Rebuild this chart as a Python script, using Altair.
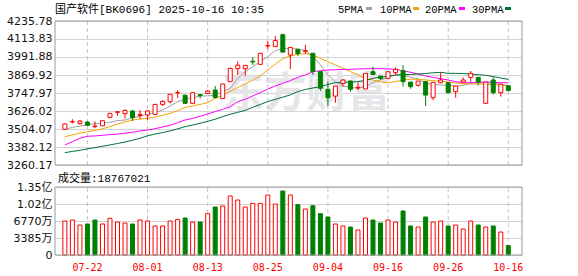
import altair as alt
import pandas as pd

# ---------------- data ----------------
dates = ["07-17", "07-18", "07-21", "07-22", "07-23", "07-24", "07-25", "07-28", "07-29", "07-30",
         "07-31", "08-01", "08-04", "08-05", "08-06", "08-07", "08-08", "08-11", "08-12", "08-13",
         "08-14", "08-15", "08-18", "08-19", "08-20", "08-21", "08-22", "08-25", "08-26", "08-27",
         "08-28", "08-29", "09-01", "09-02", "09-03", "09-04", "09-05", "09-08", "09-09", "09-10",
         "09-11", "09-12", "09-15", "09-16", "09-17", "09-18", "09-19", "09-22", "09-23", "09-24",
         "09-25", "09-26", "09-29", "09-30", "10-09", "10-10", "10-13", "10-14", "10-15", "10-16"]

opens = [3502, 3551, 3542, 3551, 3520, 3526, 3583, 3617, 3608, 3626,
         3596, 3599, 3603, 3671, 3689, 3749, 3732, 3678, 3737, 3745,
         3768, 3710, 3825, 3913, 3913, 3963, 3942, 4066, 4062, 4143,
         4005, 4044, 4030, 4017, 3893, 3773, 3727, 3813, 3829, 3782,
         3775, 3892, 3863, 3847, 3886, 3899, 3822, 3800, 3825, 3716,
         3818, 3818, 3757, 3822, 3854, 3854, 3678, 3836, 3750, 3797]
highs = [3542, 3570, 3565, 3556, 3556, 3562, 3610, 3622, 3637, 3633,
         3633, 3633, 3671, 3700, 3739, 3768, 3739, 3755, 3737, 3768,
         3795, 3809, 3920, 3962, 3935, 3992, 4017, 4100, 4134, 4150,
         4057, 4044, 4073, 4017, 3893, 3825, 3795, 3840, 3834, 3818,
         3881, 3926, 3863, 3895, 3922, 3937, 3822, 3829, 3829, 3820,
         3888, 3818, 3795, 3854, 3897, 3854, 3822, 3854, 3807, 3797]
lows = [3497, 3542, 3533, 3524, 3509, 3524, 3577, 3594, 3576, 3558,
        3572, 3565, 3599, 3660, 3678, 3716, 3678, 3678, 3710, 3745,
        3710, 3710, 3825, 3870, 3863, 3937, 3942, 4045, 4062, 4025,
        3910, 3999, 4012, 3870, 3762, 3660, 3682, 3791, 3757, 3768,
        3775, 3874, 3836, 3847, 3870, 3791, 3777, 3791, 3660, 3700,
        3813, 3750, 3716, 3822, 3822, 3800, 3678, 3737, 3723, 3764]
closes = [3538, 3554, 3558, 3529, 3524, 3560, 3610, 3621, 3630, 3581,
          3603, 3626, 3671, 3691, 3739, 3751, 3678, 3750, 3730, 3761,
          3718, 3809, 3915, 3937, 3935, 3958, 4017, 4069, 4103, 4025,
          4057, 4015, 4035, 3893, 3780, 3716, 3795, 3836, 3773, 3786,
          3881, 3874, 3847, 3892, 3908, 3825, 3791, 3829, 3734, 3820,
          3836, 3750, 3795, 3836, 3881, 3822, 3822, 3750, 3807, 3764]

# volume in 万 (10k shares)
volumes = [6770, 6968, 5973, 6172, 6968, 6172, 7300, 6570, 6371, 6172,
           6968, 6770, 5774, 5774, 6770, 7100, 7367, 6570, 6570, 8230,
           9557, 9756, 11747, 10950, 9557, 10286, 10286, 11946, 10154, 12742,
           11946, 10020, 9159, 9822, 8230, 7566, 6172, 5774, 5575, 4977,
           7367, 6968, 6371, 6968, 6570, 8762, 5774, 5575, 7566, 6570,
           6770, 5774, 5973, 5177, 6770, 5973, 5575, 5774, 4579, 1877]
vol_up = [1, 1, 1, 0, 0, 1, 1, 1, 1, 0,
          1, 1, 1, 1, 1, 1, 0, 1, 0, 1,
          0, 1, 1, 1, 1, 1, 1, 1, 1, 0,
          1, 0, 1, 0, 0, 0, 1, 1, 0, 1,
          1, 0, 0, 1, 1, 0, 0, 1, 0, 1,
          1, 0, 1, 1, 1, 0, 1, 0, 1, 0]

ma5 = [3502, 3515, 3524, 3533, 3540, 3543, 3549, 3561, 3565, 3579,
       3590, 3606, 3615, 3633, 3660, 3689, 3705, 3716, 3728, 3728,
       3735, 3757, 3780, 3847, 3893, 3926, 3960, 3994, 4035, 4050,
       4050, 4046, 4035, 3999, 3938, 3870, 3825, 3795, 3786, 3780,
       3791, 3818, 3836, 3854, 3870, 3870, 3854, 3845, 3814, 3807,
       3802, 3800, 3795, 3800, 3814, 3818, 3818, 3814, 3809, 3795]
ma10 = [3452, 3464, 3475, 3486, 3495, 3506, 3520, 3538, 3552, 3565,
        3572, 3576, 3585, 3597, 3610, 3628, 3651, 3660, 3671, 3683,
        3710, 3735, 3760, 3785, 3810, 3835, 3865, 3905, 3945, 3980,
        3999, 4010, 4015, 4005, 3983, 3960, 3938, 3915, 3893, 3870,
        3847, 3836, 3825, 3818, 3825, 3836, 3841, 3841, 3836, 3832,
        3827, 3823, 3816, 3811, 3809, 3809, 3807, 3804, 3802, 3800]
ma20 = [3396, 3418, 3441, 3455, 3457, 3461, 3466, 3470, 3475, 3482,
        3491, 3497, 3506, 3518, 3529, 3547, 3565, 3576, 3590, 3606,
        3622, 3637, 3655, 3689, 3705, 3728, 3750, 3775, 3795, 3814,
        3832, 3854, 3870, 3893, 3899, 3904, 3906, 3908, 3908, 3911,
        3913, 3913, 3913, 3911, 3908, 3899, 3888, 3877, 3863, 3854,
        3845, 3836, 3825, 3818, 3818, 3820, 3823, 3820, 3818, 3818]
ma30 = [3344, 3352, 3360, 3369, 3378, 3387, 3396, 3406, 3416, 3428,
        3441, 3458, 3470, 3480, 3491, 3505, 3520, 3531, 3543, 3556,
        3570, 3588, 3604, 3617, 3630, 3651, 3670, 3690, 3705, 3720,
        3735, 3757, 3772, 3782, 3791, 3805, 3818, 3820, 3822, 3825,
        3833, 3847, 3855, 3862, 3870, 3872, 3874, 3877, 3880, 3885,
        3888, 3881, 3881, 3880, 3875, 3872, 3868, 3859, 3850, 3840]

x_tick_labels = ["07-22", "08-01", "08-13", "08-25", "09-04", "09-16", "09-26", "10-16"]
price_ticks = [3260.17, 3382.12, 3504.07, 3626.02, 3747.97, 3869.92, 3991.88, 4113.83, 4235.78]
vol_ticks = [0, 3385, 6770, 10155, 13540]
vol_tick_labels = ["0", "3385万", "6770万", "1.02亿", "1.35亿"]
ma_names = ["5PMA", "10PMA", "20PMA", "30PMA"]
ma_colors = ["#a0a0a0", "#f5a300", "#ff00ff", "#00703c"]
title_text = "国产软件[BK0696] 2025-10-16 10:35"
vol_title = "成交量:18767021"
watermark = "东方财富"

# ---------------- styles ----------------
RED = "#ff0000"
GREEN = "#008000"
GRID = "#d3d3d3"
FRAME = "#9a9a9a"
MONO = "Liberation Mono, Noto Sans CJK SC"

idx = list(range(len(dates)))
df = pd.DataFrame({"i": idx, "date": dates, "open": opens, "high": highs,
                   "low": lows, "close": closes, "vol": volumes})
df["col"] = [RED if c >= o else GREEN for o, c in zip(opens, closes)]
df["fill"] = ["#ffffff" if c >= o else GREEN for o, c in zip(opens, closes)]
df["vcol"] = [RED if u else GREEN for u in vol_up]
df["vfill"] = ["#ffffff" if u else GREEN for u in vol_up]

ma_rows = []
for name, series in zip(ma_names, [ma5, ma10, ma20, ma30]):
    for i, v in zip(idx, series):
        ma_rows.append({"i": i, "ma": name, "v": v})
ma_df = pd.DataFrame(ma_rows)

tick_idx = [dates.index(d) for d in x_tick_labels]
vrules = pd.DataFrame({"i": tick_idx, "lab": x_tick_labels,
                       "plo": [price_ticks[0]] * len(tick_idx), "phi": [price_ticks[-1]] * len(tick_idx),
                       "vlo": [vol_ticks[0]] * len(tick_idx), "vhi": [vol_ticks[-1]] * len(tick_idx)})
frame_df = pd.DataFrame({"plo": [price_ticks[0]], "phi": [price_ticks[-1]],
                         "vlo": [vol_ticks[0]], "vhi": [vol_ticks[-1]]})

x_scale = alt.Scale(domain=[-0.65, 60.16], nice=False, zero=False)


def X(field="i"):
    return alt.X(f"{field}:Q", scale=x_scale, axis=None)


price_scale = alt.Scale(domain=[price_ticks[0], price_ticks[-1]], range=[144, 0], nice=False, zero=False)
price_axis = alt.Axis(values=price_ticks, format=".2f", grid=True, gridColor=GRID, domain=False,
                      ticks=False, labelPadding=3, labelFont="DejaVu Sans", labelFontSize=11,
                      labelColor="#111111", title=None, orient="left", labelOverlap=False)
vol_scale = alt.Scale(domain=[vol_ticks[0], vol_ticks[-1]], range=[234, 166], nice=False, zero=False)
vol_label_expr = ("[" + ",".join(f"'{t}'" for t in vol_tick_labels) + "][indexof(["
                  + ",".join(str(v) for v in vol_ticks) + "], datum.value)]")
vol_axis = alt.Axis(values=vol_ticks, labelExpr=vol_label_expr, grid=True, gridColor=GRID, domain=False,
                    ticks=False, labelPadding=3, labelFont="DejaVu Sans, Noto Sans CJK SC", labelFontSize=11,
                    labelColor="#111111", title=None, orient="left", labelOverlap=False)


def PY(field):
    return alt.Y(f"{field}:Q", scale=price_scale, axis=price_axis)


def VY(field):
    return alt.Y(f"{field}:Q", scale=vol_scale, axis=vol_axis)


# ---------------- price panel ----------------
p_vr = alt.Chart(vrules).mark_rule(color="#c4c4c4", strokeDash=[4, 3], strokeWidth=1).encode(
    x=X(), y=PY("plo"), y2="phi:Q")
p_ma = alt.Chart(ma_df).mark_line(strokeWidth=1).encode(
    x=X(), y=PY("v"),
    color=alt.Color("ma:N", scale=alt.Scale(domain=ma_names, range=ma_colors), legend=None),
    detail="ma:N")
p_wick = alt.Chart(df).mark_rule(strokeWidth=1).encode(
    x=X(), y=PY("low"), y2="high:Q", color=alt.Color("col:N", scale=None))
p_body = alt.Chart(df).mark_bar(size=4, strokeWidth=1).encode(
    x=X(), y=PY("open"), y2="close:Q",
    fill=alt.Fill("fill:N", scale=None), stroke=alt.Stroke("col:N", scale=None))
p_frame = alt.Chart(frame_df).mark_rect(filled=False, stroke=FRAME, strokeWidth=1).encode(
    x=alt.value(0), x2=alt.value("width"), y=PY("phi"), y2="plo:Q")
price = alt.layer(p_vr, p_ma, p_wick, p_body, p_frame)

# ---------------- volume panel ----------------
v_vr = alt.Chart(vrules).mark_rule(color="#c4c4c4", strokeDash=[4, 3], strokeWidth=1).encode(
    x=X(), y=VY("vlo"), y2="vhi:Q")
v_bar = alt.Chart(df).mark_bar(size=4, strokeWidth=1, orient="vertical").encode(
    x=X(), y=VY("vol"),
    fill=alt.Fill("vfill:N", scale=None), stroke=alt.Stroke("vcol:N", scale=None))
v_frame = alt.Chart(frame_df).mark_rect(filled=False, stroke=FRAME, strokeWidth=1).encode(
    x=alt.value(0), x2=alt.value("width"), y=VY("vhi"), y2="vlo:Q")
volume = alt.layer(v_vr, v_bar, v_frame)

# x tick labels (red) drawn as text on the shared x scale
x_labels = alt.Chart(vrules).mark_text(
    font="DejaVu Sans Mono", fontSize=10, color=RED, fill=RED, align="center", baseline="top").encode(
    x=X(), y=alt.value(242), text="lab:N")

# ---------------- texts ----------------
wm = alt.Chart(pd.DataFrame({"t": [watermark]})).mark_text(
    font="Noto Sans CJK SC", fontSize=42, fontWeight="bold", color="#e6e6ea", align="center",
    baseline="middle").encode(text="t:N", x=alt.value(251), y=alt.value(73))
title = alt.Chart(pd.DataFrame({"t": [title_text]})).mark_text(
    font=MONO, fontSize=11, color="#000000", align="left", baseline="alphabetic").encode(
    text="t:N", x=alt.value(0), y=alt.value(-8.5))
vtitle = alt.Chart(pd.DataFrame({"t": [vol_title]})).mark_text(
    font=MONO, fontSize=11, color="#000000", align="left", baseline="alphabetic").encode(
    text="t:N", x=alt.value(3), y=alt.value(160.5))

legend_layers = []
legend_text_x = [283, 325, 370, 417]
legend_sw_x = [311, 358, 404, 450]
for name, colr, tx, sx in zip(ma_names, ma_colors, legend_text_x, legend_sw_x):
    legend_layers.append(alt.Chart(pd.DataFrame({"t": [name]})).mark_text(
        font="Liberation Mono", fontSize=10.5, color="#000000", align="left", baseline="alphabetic").encode(
        text="t:N", x=alt.value(tx), y=alt.value(-8.5)))
    legend_layers.append(alt.Chart(pd.DataFrame({"t": [name]})).mark_rect(color=colr).encode(
        x=alt.value(sx), x2=alt.value(sx + 6), y=alt.value(-14), y2=alt.value(-11)))

chart = alt.layer(wm, price, volume, x_labels, title, vtitle, *legend_layers).resolve_scale(
    y="independent"
).properties(
    width=467, height=234,
    padding={"left": 55, "top": 21, "right": 56, "bottom": 21},
    autosize=alt.AutoSizeParams(type="none"),
    background="#ffffff",
).configure_view(stroke=None)

chart.save("out.html", embed_options={"renderer": "svg", "actions": False})
